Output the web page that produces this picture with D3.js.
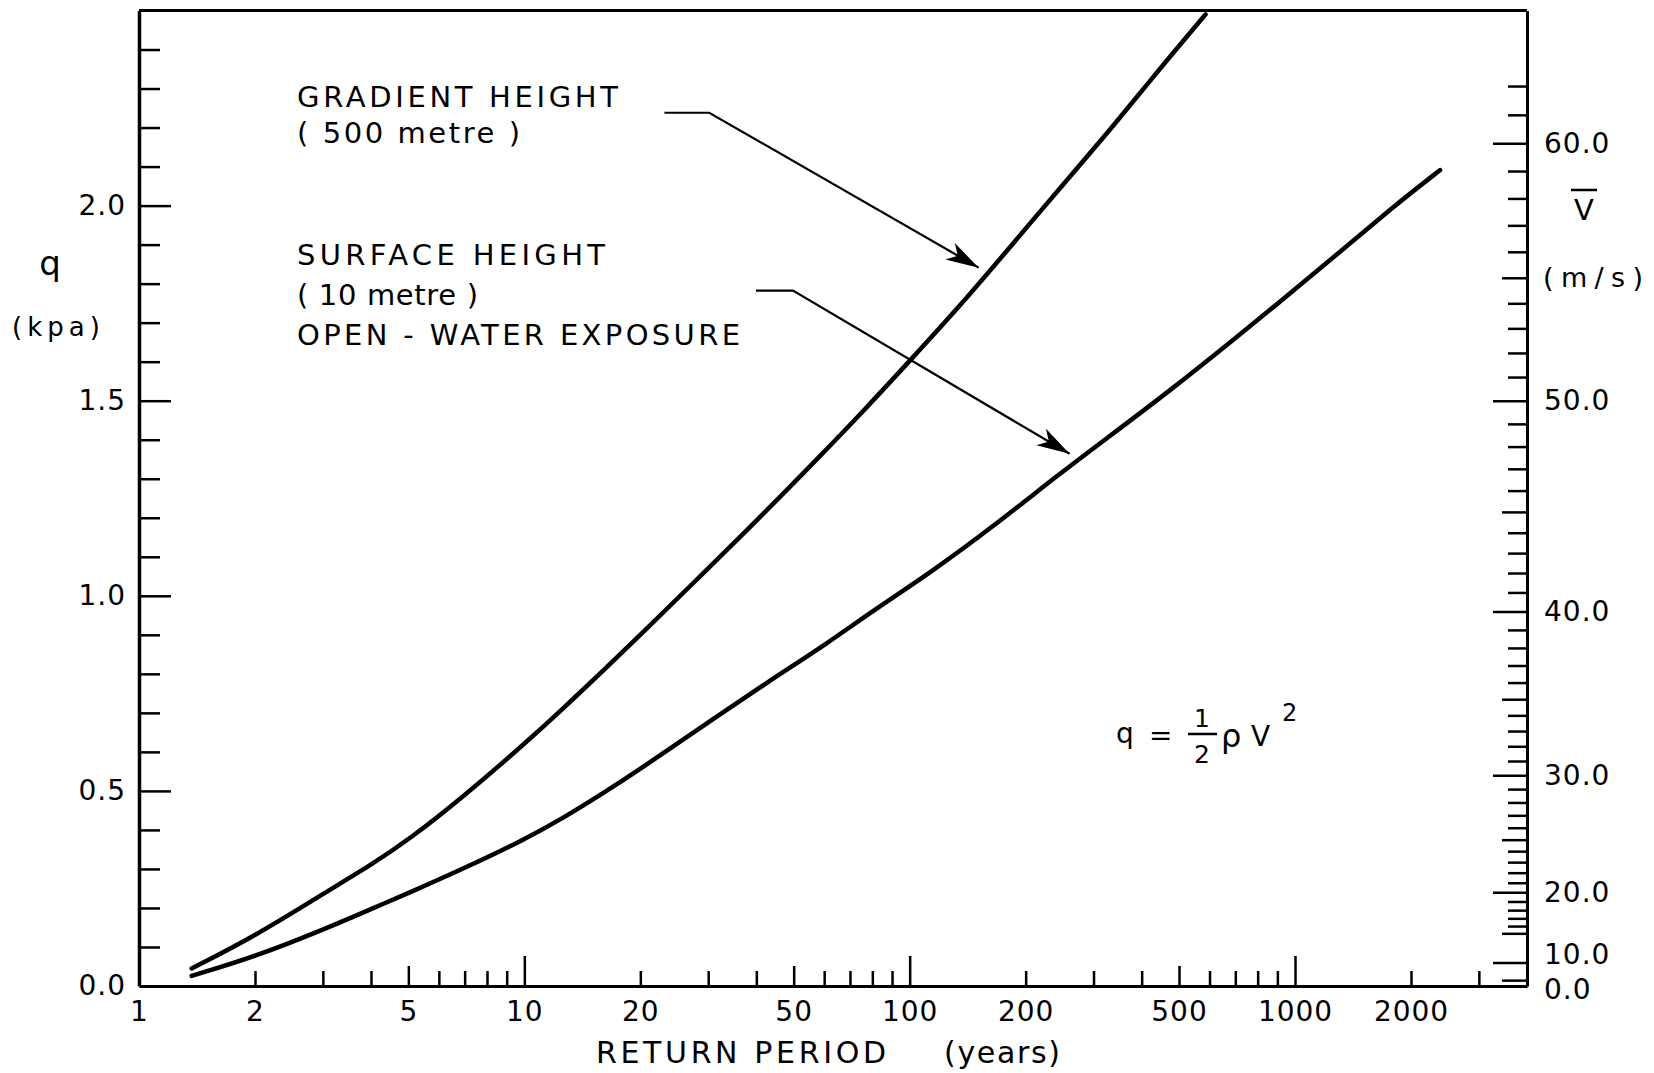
<!DOCTYPE html>
<html>
<head>
<meta charset="utf-8">
<script src="https://cdn.jsdelivr.net/npm/d3@7"></script>
<style>
body{margin:0;background:#fff}
svg{font-family:"DejaVu Sans",sans-serif}
.axis text{font-size:28px;fill:#000;font-family:"DejaVu Sans",sans-serif;letter-spacing:1px}
.axis path,.axis line{stroke:#000}
</style>
</head>
<body>
<div id="chart"></div>
<script>
// return period (years) and velocity pressure q (kPa)
var gradientPeriod = [1.37,2,3,4,5,7,10,12.7,16.2,20,28.8,40.3,56.6,77.8,100,136,183,246,332,430,525,586]
var gradientQ = [0.045,0.128,0.236,0.31,0.374,0.488,0.62,0.714,0.813,0.9,1.053,1.195,1.343,1.485,1.602,1.746,1.896,2.046,2.195,2.332,2.434,2.49]
var surfacePeriod = [1.37,2,3,4,5,7,10,12.7,16.2,20,29.9,44.5,61.3,80.9,113.5,166,246.5,326,453,693,1211,1802,2380]
var surfaceQ = [0.026,0.075,0.144,0.197,0.238,0.302,0.375,0.432,0.497,0.556,0.675,0.79,0.879,0.964,1.06,1.18,1.315,1.405,1.511,1.656,1.853,1.998,2.091]

var periodLabels = [1,2,5,10,20,50,100,200,500,1000,2000]
var qLabels = [0,0.5,1,1.5,2]
var speedLabels = [0,10,20,30,40,50,60]

// leader arrows, in (years, kPa)
var gradientLeader = [[23.1,2.238],[30.2,2.238],[151,1.841]]
var surfaceLeader = [[39.9,1.782],[49.8,1.782],[260,1.364]]

var rho = 1.2
var width = 1654
var height = 1073

var x = d3.scaleLog().domain([1,4000]).range([139,1527])
var y = d3.scaleLinear().domain([0,2.5]).range([986,10.5])
var vMax = Math.sqrt(2.5/(0.5*rho/1000))
var v = d3.scalePow().exponent(2).domain([0,vMax]).range(y.range())

var svg = d3.select("#chart").append("svg").attr("width",width).attr("height",height)

svg.append("defs").append("marker")
.attr("id","arrow")
.attr("markerUnits","userSpaceOnUse")
.attr("orient","auto")
.attr("markerWidth",40).attr("markerHeight",24)
.attr("viewBox","-36 -12 40 24")
.attr("refX",0).attr("refY",0)
.style("overflow","visible")
.append("path")
.attr("d","M0,0L-33,-9.5L-24,0L-33,9.5Z")
.attr("fill","#000")

// bottom axis, log ticks
var periodTicks = [1]
for(var dec of [1,10,100,1000]){
    for(var m=1;m<10;m++){
        var t = dec*m
        if(t>1 && t<4000){ periodTicks.push(t) }
    }
}
function periodTickLen(d){
    if(d==1) return 0
    var m = d/Math.pow(10,Math.floor(Math.log10(d)+1e-9))
    if(Math.abs(m-1)<1e-6) return 30
    if(Math.abs(m-5)<1e-6) return 20
    return 15
}
var gx = svg.append("g").attr("class","axis")
.attr("transform","translate(0,"+y(0)+")")
.call(d3.axisBottom(x).tickValues(periodTicks).tickSizeInner(-15).tickSizeOuter(0).tickPadding(15)
    .tickFormat(function(d){ return periodLabels.indexOf(d)>-1 ? d : "" }))
gx.selectAll(".tick line").attr("y2",function(d){return -periodTickLen(d)}).attr("stroke-width",2.5)
gx.select(".domain").attr("stroke-width",3)

// left axis, q
var qTicks = d3.range(0,25).map(function(i){return i/10})
var gy = svg.append("g").attr("class","axis")
.attr("transform","translate("+x(1)+",0)")
.call(d3.axisLeft(y).tickValues(qTicks).tickSizeInner(-21).tickSizeOuter(0).tickPadding(13)
    .tickFormat(function(d){ return qLabels.indexOf(d)>-1 ? d3.format(".1f")(d) : "" }))
gy.selectAll(".tick line").attr("x2",function(d){
    if(d==0) return 0
    return Math.round(d*10)%5==0 ? 32 : 21
}).attr("stroke-width",2.5)
gy.select(".domain").attr("stroke-width",3.5)

// right axis, mean wind speed
var vTicks = [0,5,10].concat(d3.range(15,63))
var gv = svg.append("g").attr("class","axis")
.attr("transform","translate("+x(4000)+",0)")
.call(d3.axisRight(v).tickValues(vTicks).tickSizeInner(-19).tickSizeOuter(0).tickPadding(17)
    .tickFormat(function(d){ return speedLabels.indexOf(d)>-1 ? d3.format(".1f")(d) : "" }))
gv.selectAll(".tick line").attr("x2",function(d){
    if(d==0) return 0
    if(d%10==0) return -34
    if(d%5==0) return -25
    return -19
}).attr("stroke-width",2.5)
gv.select(".domain").attr("stroke-width",3)
gv.selectAll(".tick text").filter(function(d){return d==10}).attr("dy","0.05em")
gv.selectAll(".tick text").filter(function(d){return d==0}).attr("dy","0.45em")

// top frame
svg.append("line")
.attr("x1",x(1)).attr("x2",x(4000))
.attr("y1",y(2.5)).attr("y2",y(2.5))
.attr("stroke","#000").attr("stroke-width",3)

// curves
var line = d3.line()
.x(function(d){return x(d[0])})
.y(function(d){return y(d[1])})
.curve(d3.curveBasis)

var series = [
    gradientPeriod.map(function(t,i){return [t,gradientQ[i]]}),
    surfacePeriod.map(function(t,i){return [t,surfaceQ[i]]})
]
svg.selectAll(".curve")
.data(series)
.enter()
.append("path")
.attr("class","curve")
.attr("d",line)
.attr("fill","none")
.attr("stroke","#000")
.attr("stroke-width",4.5)
.attr("stroke-linecap","round")

// leaders
var leader = d3.line()
.x(function(d){return x(d[0])})
.y(function(d){return y(d[1])})
svg.selectAll(".leader")
.data([gradientLeader,surfaceLeader])
.enter()
.append("path")
.attr("class","leader")
.attr("d",leader)
.attr("fill","none")
.attr("stroke","#000")
.attr("stroke-width",2.2)
.attr("marker-end","url(#arrow)")

// annotation text
var notes = [
    {text:"GRADIENT HEIGHT",x:297,y:107,w:321},
    {text:"( 500 metre )",x:297,y:143,w:223},
    {text:"SURFACE HEIGHT",x:297,y:265,w:308},
    {text:"( 10 metre )",x:297,y:305,w:181},
    {text:"OPEN - WATER EXPOSURE",x:297,y:345,w:443}
]
svg.selectAll(".note")
.data(notes)
.enter()
.append("text")
.attr("class","note")
.attr("x",function(d){return d.x})
.attr("y",function(d){return d.y})
.attr("textLength",function(d){return d.w})
.attr("lengthAdjust","spacing")
.style("font-size","29px")
.text(function(d){return d.text})

// axis titles
svg.append("text").text("q").attr("x",50).attr("y",275).attr("text-anchor","middle").style("font-size","34px")
svg.append("text").text("(kpa)").attr("x",12).attr("y",336).attr("textLength",88).attr("lengthAdjust","spacing").style("font-size","26px")

svg.append("text").text("RETURN PERIOD").attr("x",596).attr("y",1063).attr("textLength",290).attr("lengthAdjust","spacing").style("font-size","30px")
svg.append("text").text("(years)").attr("x",944).attr("y",1063).attr("textLength",116).attr("lengthAdjust","spacing").style("font-size","30px")

svg.append("text").text("V").attr("x",1584).attr("y",220).attr("text-anchor","middle").style("font-size","29px")
svg.append("line").attr("x1",1571).attr("x2",1597).attr("y1",190).attr("y2",190).attr("stroke","#000").attr("stroke-width",2.5)
svg.append("text").text("(m/s)").attr("x",1543).attr("y",287).attr("textLength",100).attr("lengthAdjust","spacing").style("font-size","27px")

// formula q = 1/2 rho V^2
var f = svg.append("g").style("font-size","28px")
f.append("text").text("q").attr("x",1116).attr("y",743)
f.append("text").text("=").attr("x",1149).attr("y",745)
f.append("text").text("1").attr("x",1202).attr("y",727).attr("text-anchor","middle").style("font-size","25px")
f.append("line").attr("x1",1188).attr("x2",1217).attr("y1",734).attr("y2",734).attr("stroke","#000").attr("stroke-width",2.5)
f.append("text").text("2").attr("x",1202).attr("y",763).attr("text-anchor","middle").style("font-size","25px")
f.append("text").text("ρ").attr("x",1221).attr("y",747).style("font-size","32px")
f.append("text").text("V").attr("x",1251).attr("y",746)
f.append("text").text("2").attr("x",1282).attr("y",721).style("font-size","24px")
</script>
</body>
</html>
